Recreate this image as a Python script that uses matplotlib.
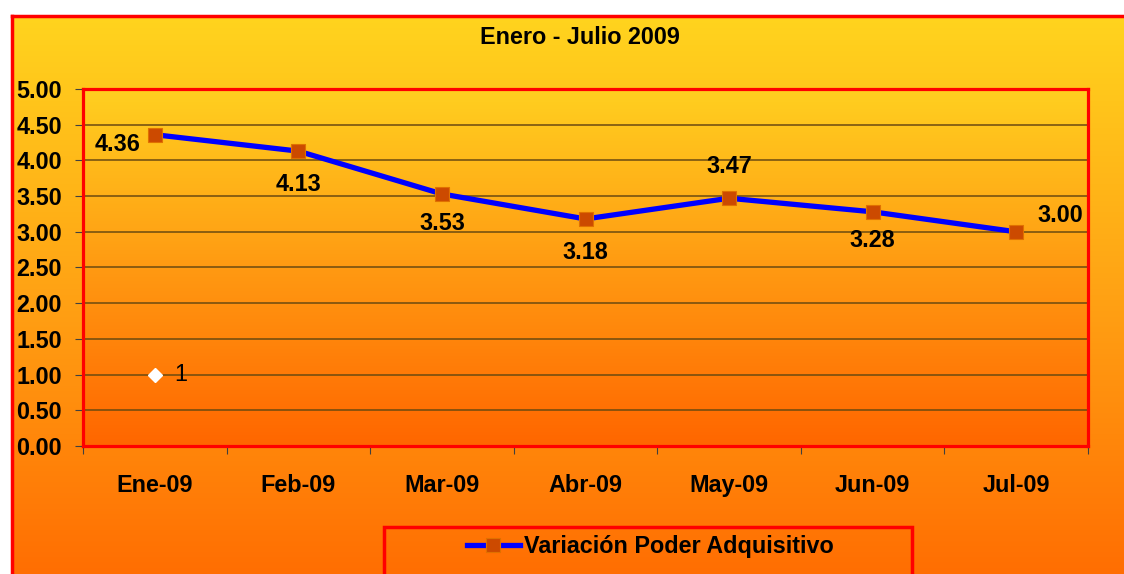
import matplotlib.pyplot as plt
import numpy as np
from matplotlib.colors import LinearSegmentedColormap
from matplotlib.patches import Rectangle

plt.rcParams['font.family'] = ['Liberation Sans', 'DejaVu Sans']

meses = ['Ene-09', 'Feb-09', 'Mar-09', 'Abr-09', 'May-09', 'Jun-09', 'Jul-09']
variacion = [4.36, 4.13, 3.53, 3.18, 3.47, 3.28, 3.00]
etiquetas = ['4.36', '4.13', '3.53', '3.18', '3.47', '3.28', '3.00']
# second series: single point at Ene-09
serie2 = [1]

FS = 16.8
W, H = 1124, 574
fig = plt.figure(figsize=(W / 100, H / 100), dpi=100)
fig.patch.set_facecolor('white')

# chart background with gradient and red frame
bg = fig.add_axes([12 / W, 0, 1 - 12 / W, 1 - 16 / H])
fondo = LinearSegmentedColormap.from_list('fondo', ['#FFD41E', '#FFA214', '#FF6E02'])
bg.imshow(np.linspace(0, 1, 256).reshape(-1, 1), cmap=fondo, aspect='auto',
          extent=[0, 1, 0, 1], transform=bg.transAxes)
bg.set_xticks([])
bg.set_yticks([])
for s in ['left', 'top']:
    bg.spines[s].set_color('#FF0000')
    bg.spines[s].set_linewidth(2.5)
bg.spines['right'].set_visible(False)
bg.spines['bottom'].set_visible(False)

# plot area
ax = fig.add_axes([83 / W, (H - 446) / H, 1005 / W, 357 / H])
interior = LinearSegmentedColormap.from_list('interior', ['#FFD020', '#FF9A12', '#FF6600'])
ax.imshow(np.linspace(0, 1, 256).reshape(-1, 1), cmap=interior, aspect='auto',
          extent=[0, 1, 0, 1], transform=ax.transAxes, zorder=0)

x = np.arange(len(meses))
ax.plot(x, variacion, color='#0000FF', linewidth=3.8, marker='s', markersize=10,
        markerfacecolor='#CC4A00', markeredgecolor='#E07000', markeredgewidth=0.8,
        zorder=4, label='Variación Poder Adquisitivo')
ax.plot([0], serie2, linestyle='none', marker='D', markersize=7,
        markerfacecolor='white', markeredgecolor='white', zorder=4)
ax.annotate('1', (0, serie2[0]), xytext=(14, 0), textcoords='offset points',
            ha='left', va='center', fontsize=FS, color='black')

# label positions for each point
offsets = [(-10, -7), (0, -24), (0, -21), (0, -24), (0, 23), (0, -21), (15, 12)]
alineacion = ['right', 'center', 'center', 'center', 'center', 'center', 'left']
for xi, yi, t, off, ha in zip(x, variacion, etiquetas, offsets, alineacion):
    ax.annotate(t, (xi, yi), xytext=off, textcoords='offset points', ha=ha,
                va='center', fontsize=FS, fontweight='bold', color='black', zorder=5)

ax.set_xlim(-0.5, len(meses) - 0.5)
ax.set_ylim(0, 5)
ax.set_yticks(np.arange(0, 5.01, 0.5))
ax.set_yticklabels([f'{v:.2f}' for v in np.arange(0, 5.01, 0.5)],
                   fontsize=FS, fontweight='bold')
ax.set_xticks(np.arange(-0.5, len(meses), 1.0))
ax.set_xticklabels([])
ax.set_xticks(x, minor=True)
ax.set_xticklabels(meses, minor=True, fontsize=FS, fontweight='bold')
ax.tick_params(axis='x', which='minor', length=0, pad=20)
ax.tick_params(axis='x', which='major', length=6, color='#404040', direction='out')
ax.tick_params(axis='y', length=6, color='#404040', pad=9)
ax.grid(axis='y', color='#6B4A10', linewidth=1.1, zorder=1)
ax.set_axisbelow(True)
for s in ax.spines.values():
    s.set_color('#FF0000')
    s.set_linewidth(2.3)

fig.text(580 / W, 1 - 38 / H, 'Enero - Julio 2009', ha='center', va='center',
         fontsize=FS, fontweight='bold')

# legend box
fig.patches.append(Rectangle((384 / W, -0.05), 528 / W, (H - 527) / H + 0.05,
                             transform=fig.transFigure, facecolor='none',
                             edgecolor='#FF0000', linewidth=2.5, zorder=5))
fig.legend(loc='center', bbox_to_anchor=(650 / W, (H - 547) / H), frameon=False,
           prop={'weight': 'bold', 'size': FS},
           handlelength=2.3, handletextpad=0.15)

fig.savefig('out.png', dpi=100)
